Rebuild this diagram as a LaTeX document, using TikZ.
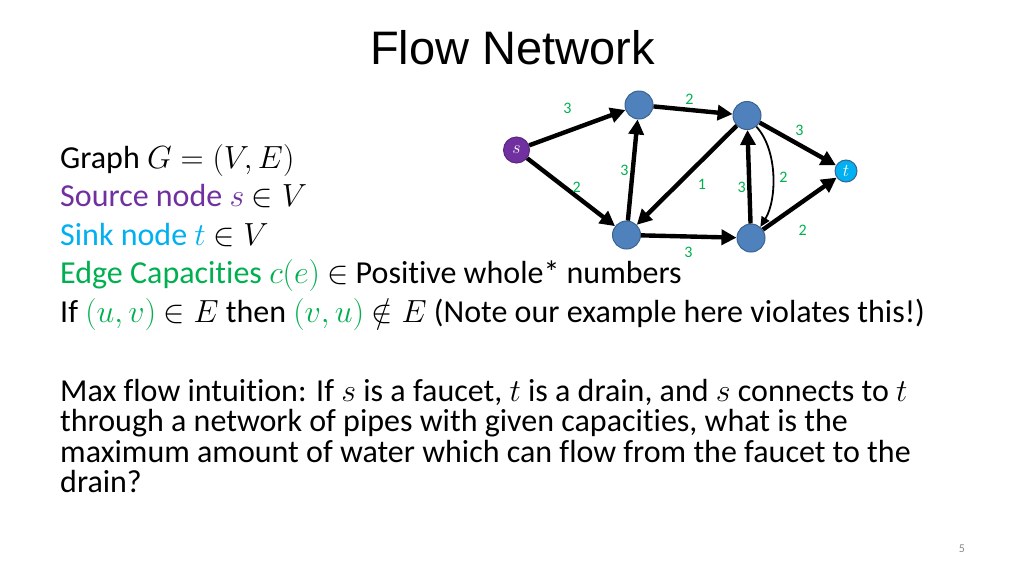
\RequirePackage{fix-cm}
\documentclass[tikz,border=0pt]{standalone}
\usepackage{fontspec}
\setmainfont[Ligatures=NoCommon]{Carlito}
\newfontfamily\titlefont{Liberation Sans}
\usetikzlibrary{arrows.meta}
\definecolor{nodeblue}{HTML}{4F81BD}
\definecolor{nodeedge}{HTML}{3A6391}
\definecolor{srcpurple}{HTML}{7030A0}
\definecolor{sinkcyan}{HTML}{00B0F0}
\definecolor{capgreen}{HTML}{00B050}
\definecolor{pagegrey}{HTML}{8C8C8C}
\begin{document}
\begin{tikzpicture}[x=1pt,y=-1pt,
  vtx/.style={circle,fill=nodeblue,draw=nodeedge,line width=1pt,minimum size=28pt,inner sep=0pt},
  srcnode/.style={circle,fill=srcpurple,draw=srcpurple!80!black,line width=1pt,minimum size=26pt,inner sep=0pt,text=white,font=\fontsize{18}{18}\selectfont},
  sinknode/.style={circle,fill=sinkcyan,draw=nodeedge,line width=1pt,minimum size=22pt,inner sep=0pt,text=white,font=\fontsize{18}{18}\selectfont},
  edge/.style={line width=4.4pt,-{Triangle[length=15pt,width=15pt]}},
  thinedge/.style={line width=1.8pt,-{Triangle[length=10pt,width=9pt]}},
  caplabel/.style={text=capgreen,font=\fontsize{16}{16}\selectfont,inner sep=0pt},
  bodyline/.style={anchor=base west,inner sep=0pt,font=\fontsize{32}{32}\selectfont},
]
\useasboundingbox (0,0) rectangle (1024,576);
\fill[white] (0,0) rectangle (1024,576);

% title
\node[anchor=base,inner sep=0pt,font=\titlefont\fontsize{47}{47}\selectfont] (title) at (512.5,64.5) {Flow Network};

% graph nodes
\node[srcnode] (s) at (516.5,150) {$s$};
\node[vtx] (A) at (639,105) {};
\node[vtx] (B) at (747,115.5) {};
\node[vtx] (C) at (626.5,235) {};
\node[vtx] (D) at (751,238) {};
\node[sinknode] (t) at (846,171) {$t$};

% edges
\draw[edge] (s) -- (A);
\draw[edge] (s) -- (C);
\draw[edge] (C) -- (A);
\draw[edge] (A) -- (B);
\draw[edge] (B) -- (C);
\draw[edge] (B) -- (t);
\draw[edge] (D) -- (B);
\draw[edge] (C) -- (D);
\draw[edge] (D) -- (t);
\draw[thinedge] (B.-50) .. controls (778,150) and (777,200) .. (D.50);

% capacities
\node[caplabel] (c1) at (567.3,108) {3};
\node[caplabel] (c2) at (689.3,99) {2};
\node[caplabel] (c3) at (799.3,130) {3};
\node[caplabel] (c4) at (624.3,170) {3};
\node[caplabel] (c5) at (576.7,187) {2};
\node[caplabel] (c6) at (702,184) {1};
\node[caplabel] (c7) at (741.7,187.3) {3};
\node[caplabel] (c8) at (783.3,177.3) {2};
\node[caplabel] (c9) at (688.3,252.7) {3};
\node[caplabel] (c10) at (802.7,230) {2};

% body text
\node[bodyline] (l1) at (60,168) {Graph $G=(V,E)$};
\node[bodyline,text=srcpurple] (l2) at (60,206.5) {Source node $s$ \textcolor{black}{$\in V$}};
\node[bodyline,text=sinkcyan] (l3) at (60,245) {Sink node $t$ \textcolor{black}{$\in V$}};
\node[bodyline] (l4) at (60,283.5) {\textcolor{capgreen}{Edge Capacities $c(e)$} $\in$ Positive whole* numbers};
\node[bodyline] (l5) at (60,322) {If \textcolor{capgreen}{$(u,v)$} $\in E$ then \textcolor{capgreen}{$(v,u)$} $\notin E$ (Note our example here violates this!)};

\node[bodyline] (p1) at (60,401.5) {Max flow intuition: If $s$ is a faucet, $t$ is a drain, and $s$ connects to $t$};
\node[bodyline] (p2) at (60,431.8) {through a network of pipes with given capacities, what is the};
\node[bodyline] (p3) at (60,462) {maximum amount of water which can flow from the faucet to the};
\node[bodyline] (p4) at (60,492) {drain?};

% page number
\node[text=pagegrey,font=\fontsize{12}{12}\selectfont,inner sep=0pt] (pg) at (962,549) {5};
\end{tikzpicture}
\end{document}
